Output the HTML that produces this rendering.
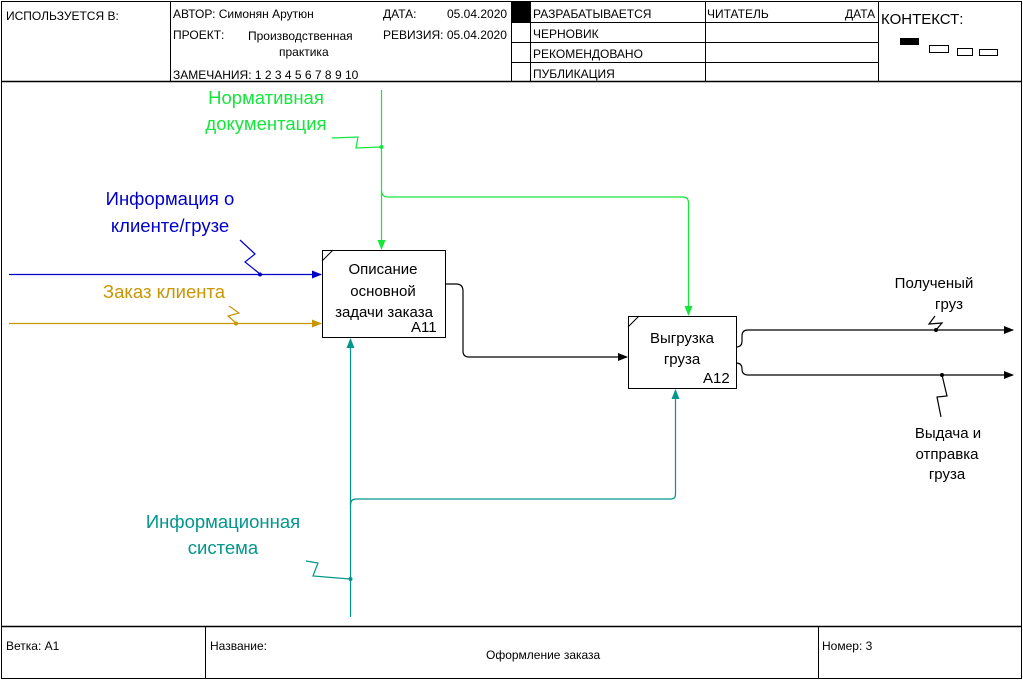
<!DOCTYPE html>
<html><head><meta charset="utf-8"><style>
html,body{margin:0;padding:0;background:#fff}
svg{display:block}
text{font-family:"Liberation Sans",Arial,sans-serif}
.s{font-size:12px;fill:#000}
.m{font-size:15px;fill:#000}
.l{font-size:18.5px}
</style></head><body>
<svg width="1023" height="680" viewBox="0 0 1023 680">
<defs>
<marker id="ab" markerWidth="10" markerHeight="8" refX="9" refY="4" orient="auto" markerUnits="userSpaceOnUse"><path d="M0,0L10,4L0,8z" fill="#000"/></marker>
<marker id="abl" markerWidth="10" markerHeight="8" refX="9" refY="4" orient="auto" markerUnits="userSpaceOnUse"><path d="M0,0L10,4L0,8z" fill="#0000c8"/></marker>
<marker id="ao" markerWidth="10" markerHeight="8" refX="9" refY="4" orient="auto" markerUnits="userSpaceOnUse"><path d="M0,0L10,4L0,8z" fill="#c89600"/></marker>
<marker id="ag" markerWidth="10" markerHeight="8" refX="9" refY="4" orient="auto" markerUnits="userSpaceOnUse"><path d="M0,0L10,4L0,8z" fill="#14e63c"/></marker>
<marker id="at" markerWidth="10" markerHeight="8" refX="9" refY="4" orient="auto" markerUnits="userSpaceOnUse"><path d="M0,0L10,4L0,8z" fill="#00968c"/></marker>
</defs>
<g fill="none" stroke="#000" stroke-width="1">
<rect x="1.5" y="1.5" width="1020" height="677"/>
<line x1="1" y1="81.5" x2="1022" y2="81.5" stroke-width="1.5"/>
<line x1="170.5" y1="1" x2="170.5" y2="81"/>
<line x1="511.5" y1="1" x2="511.5" y2="81"/>
<line x1="530.5" y1="1" x2="530.5" y2="81"/>
<line x1="705.5" y1="1" x2="705.5" y2="81"/>
<line x1="878.5" y1="1" x2="878.5" y2="81"/>
<line x1="511" y1="22.5" x2="878" y2="22.5"/>
<line x1="511" y1="42.5" x2="878" y2="42.5"/>
<line x1="511" y1="62.5" x2="878" y2="62.5"/>
<line x1="1" y1="626.5" x2="1022" y2="626.5" stroke-width="1.5"/>
<line x1="205.5" y1="626" x2="205.5" y2="679"/>
<line x1="818.5" y1="626" x2="818.5" y2="679"/>
<rect x="929.5" y="45.5" width="19" height="7"/>
<rect x="957.5" y="48.5" width="15" height="7"/>
<rect x="979.5" y="49.5" width="18" height="6"/>
</g>
<rect x="512" y="2" width="18" height="20" fill="#000"/>
<rect x="900" y="38" width="19" height="7" fill="#000"/>
<text class="s" x="6" y="20">ИСПОЛЬЗУЕТСЯ В:</text>
<text class="s" x="173" y="18">АВТОР: Симонян Арутюн</text>
<text class="s" x="383" y="18">ДАТА:</text>
<text class="s" x="447" y="18">05.04.2020</text>
<text class="s" x="173" y="39">ПРОЕКТ:</text>
<text class="s" x="248" y="40">Производственная</text>
<text class="s" x="279" y="56">практика</text>
<text class="s" x="383" y="39">РЕВИЗИЯ: 05.04.2020</text>
<text class="s" x="173" y="79">ЗАМЕЧАНИЯ:  1  2  3  4  5  6  7  8  9  10</text>
<text class="s" x="533" y="18">РАЗРАБАТЫВАЕТСЯ</text>
<text class="s" x="533" y="38">ЧЕРНОВИК</text>
<text class="s" x="533" y="58">РЕКОМЕНДОВАНО</text>
<text class="s" x="533" y="78">ПУБЛИКАЦИЯ</text>
<text class="s" x="707" y="18">ЧИТАТЕЛЬ</text>
<text class="s" x="845" y="18">ДАТА</text>
<text x="881" y="24" style="font-size:15px">КОНТЕКСТ:</text>
<text class="s" x="6" y="650">Ветка:  A1</text>
<text class="s" x="210" y="650">Название:</text>
<text class="s" x="486" y="659">Оформление заказа</text>
<text class="s" x="822" y="650">Номер: 3</text>

<g fill="#fff" stroke="#000">
<rect x="322.5" y="250.5" width="123" height="87"/>
<rect x="628.5" y="316.5" width="108" height="72"/>
</g>
<line x1="322" y1="261" x2="333" y2="250" stroke="#000"/>
<line x1="628" y1="327" x2="639" y2="316" stroke="#000"/>
<g text-anchor="middle">
<text x="383" y="274" class="m">Описание</text>
<text x="383" y="296" class="m">основной</text>
<text x="384" y="317" class="m">задачи заказа</text>
<text x="682" y="343" class="m">Выгрузка</text>
<text x="682" y="364" class="m">груза</text>
</g>
<text class="m" x="411" y="332">A11</text>
<text class="m" x="703" y="383">A12</text>

<g fill="none" stroke-width="1.2">
<line x1="9" y1="274.5" x2="321" y2="274.5" stroke="#0000c8" marker-end="url(#abl)"/>
<polyline points="240,240 255,254 245,262 260,274" stroke="#0000c8"/>
<line x1="9" y1="323.5" x2="321" y2="323.5" stroke="#c89600" marker-end="url(#ao)"/>
<polyline points="229,306 239,313 228,316 236,323" stroke="#c89600"/>
<line x1="381.5" y1="90" x2="381.5" y2="249" stroke="#14e63c" marker-end="url(#ag)"/>
<path d="M381.5,190 Q381.5,197 388,197 L683,197 Q688.5,197 688.5,203 L688.5,315" stroke="#14e63c" marker-end="url(#ag)"/>
<polyline points="332,138 358,137 356,148 381,147" stroke="#14e63c"/>
<line x1="350.5" y1="617" x2="350.5" y2="339" stroke="#00968c" marker-end="url(#at)"/>
<path d="M350.5,505 Q350.5,499 356,499 L671,499 Q675.5,499 675.5,494 L675.5,390" stroke="#00968c" marker-end="url(#at)"/>
<polyline points="306,561 318,563 313,576 350,579" stroke="#00968c"/>
<path d="M445,284 L456,284 Q463,284 463,291 L463,351 Q463,357 469,357 L627,357" stroke="#000" marker-end="url(#ab)"/>
<path d="M736,347 Q742,347 742,341 L742,336 Q742,330 748,330 L1013,330" stroke="#000" marker-end="url(#ab)"/>
<path d="M736,363 Q742,363 742,369 Q742,375 748,375 L1013,375" stroke="#000" marker-end="url(#ab)"/>
<polyline points="935,316 929,324 942,323 936,330" stroke="#000"/>
<polyline points="942,375 947,396 937,397 941,417" stroke="#000"/>
</g>
<g>
<circle cx="260" cy="274.5" r="2" fill="#0000c8"/>
<circle cx="236" cy="323.5" r="2" fill="#c89600"/>
<circle cx="381.5" cy="147" r="2" fill="#14e63c"/>
<circle cx="350.5" cy="579" r="2" fill="#00968c"/>
<circle cx="936" cy="330" r="2" fill="#000"/>
<circle cx="942" cy="375" r="2" fill="#000"/>
</g>
<g text-anchor="middle">
<text x="266" y="104" fill="#14e63c" class="l">Нормативная</text>
<text x="266" y="130" fill="#14e63c" class="l">документация</text>
<text x="170" y="205" fill="#0000c8" class="l">Информация о</text>
<text x="170" y="232" fill="#0000c8" class="l">клиенте/грузе</text>
<text x="164" y="298" fill="#c89600" class="l">Заказ клиента</text>
<text x="223" y="528" fill="#00968c" class="l">Информационная</text>
<text x="223" y="554" fill="#00968c" class="l">система</text>
</g>
<g text-anchor="middle">
<text class="m" x="934" y="288">Полученый</text>
<text class="m" x="949" y="309">груз</text>
<text class="m" x="948" y="438">Выдача и</text>
<text class="m" x="947" y="459">отправка</text>
<text class="m" x="947" y="479">груза</text>
</g>
</svg>
</body></html>
